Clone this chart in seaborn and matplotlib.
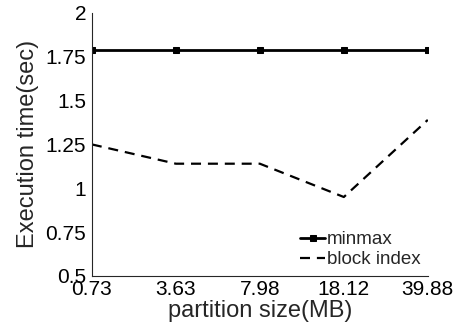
import matplotlib
matplotlib.use("Agg")
import matplotlib.pyplot as plt
import seaborn as sns
import pandas as pd
import numpy as np

sns.set_style("white")
plt.rcParams['font.family'] = ['Liberation Sans', 'DejaVu Sans']

partition_sizes = ['0.73', '3.63', '7.98', '18.12', '39.88']
minmax = [1.79, 1.79, 1.79, 1.79, 1.79]
block_index = [1.25, 1.14, 1.14, 0.95, 1.39]

df = pd.DataFrame({
    'pos': np.arange(len(partition_sizes)),
    'minmax': minmax,
    'block index': block_index,
})

fig, ax = plt.subplots(figsize=(4.64, 3.32), dpi=100)

sns.lineplot(data=df, x='pos', y='minmax', ax=ax, color='black', lw=2,
             marker='s', markersize=5, markeredgecolor='black', label='minmax')
sns.lineplot(data=df, x='pos', y='block index', ax=ax, color='black', lw=1.6,
             label='block index')
ax.lines[1].set_dashes([4.5, 3.1])

ax.set_xlim(0, 4)
ax.set_ylim(0.5, 2)
ax.set_xticks(df['pos'])
ax.set_xticklabels(partition_sizes)
ax.set_yticks([0.5, 0.75, 1, 1.25, 1.5, 1.75, 2])
ax.set_yticklabels(['0.5', '0.75', '1', '1.25', '1.5', '1.75', '2'])
ax.tick_params(axis='both', direction='in', length=4, width=0.8, labelsize=15,
               colors='#262626', pad=3)
for t in ax.get_xticklabels() + ax.get_yticklabels():
    t.set_color('black')
ax.tick_params(axis='y', pad=4)
ax.set_xlabel('partition size(MB)', fontsize=17, labelpad=1)
ax.set_ylabel('Execution time(sec)', fontsize=17, labelpad=5)

sns.despine(ax=ax)
for s in ['left', 'bottom']:
    ax.spines[s].set_color('#262626')
    ax.spines[s].set_linewidth(0.8)

leg = ax.legend(loc='lower right', frameon=False, fontsize=13.5, handlelength=1.3,
                handletextpad=0.1, borderaxespad=0.0, labelspacing=0.15,
                bbox_to_anchor=(1.0, 0.0))

plt.subplots_adjust(left=0.198, right=0.922, top=0.961, bottom=0.169)
plt.savefig('out.png', dpi=100)
